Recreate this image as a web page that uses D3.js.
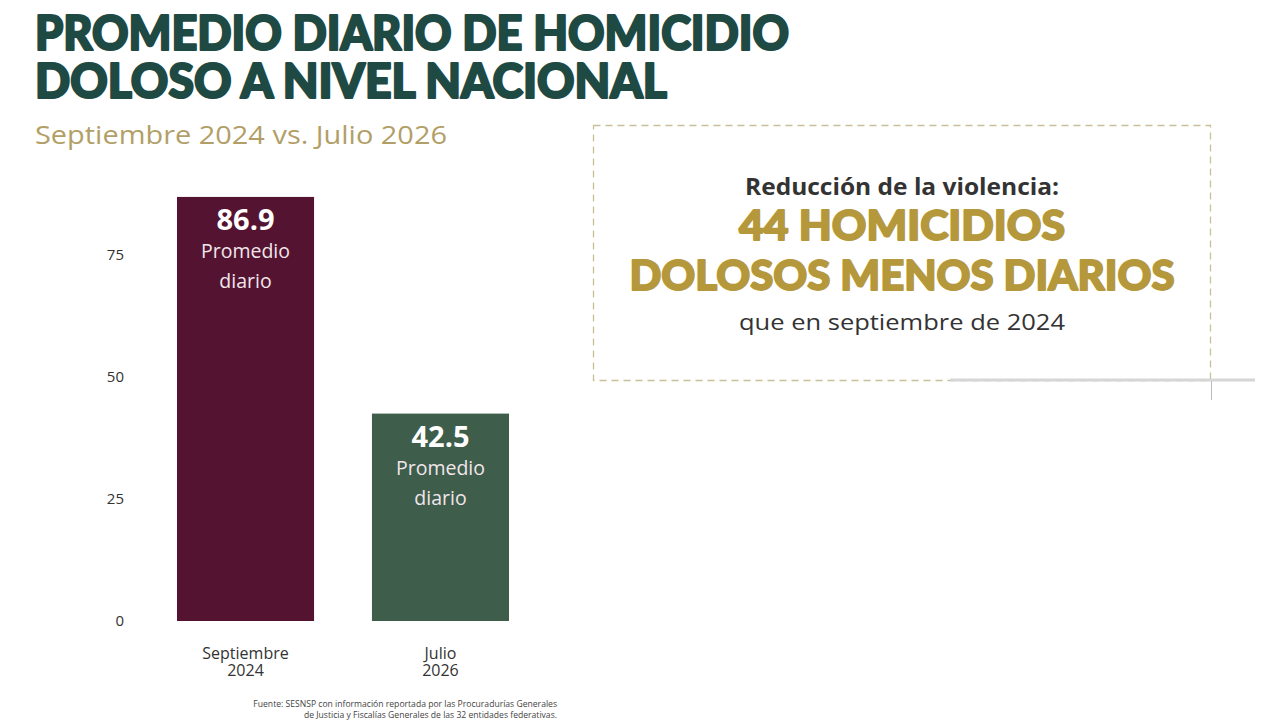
<!DOCTYPE html>
<html><head><meta charset="utf-8">
<script src="https://cdn.jsdelivr.net/npm/d3@7"></script>
<style>
html,body{margin:0;padding:0;background:#fff;}
svg{display:block;}
</style></head>
<body>
<svg id="chart" width="1280" height="723"></svg>
<script>
const categories = [["Septiembre","2024"],["Julio","2026"]];
const values = [86.9, 42.5];
const valueLabels = ["86.9","42.5"];
const tickValues = [0,25,50,75];
const barColors = ["#541331","#3e5d4a"];
const titleLines = ["PROMEDIO DIARIO DE HOMICIDIO","DOLOSO A NIVEL NACIONAL"];
const subtitle = "Septiembre 2024 vs. Julio 2026";
const boxLines = ["Reducción de la violencia:","44 HOMICIDIOS","DOLOSOS MENOS DIARIOS","que en septiembre de 2024"];
const sourceLines = ["Fuente: SESNSP con información reportada por las Procuradurías Generales","de Justicia y Fiscalías Generales de las 32 entidades federativas."];

const svg = d3.select("#chart");

// Title
svg.selectAll("text.title").data(titleLines).join("text")
  .attr("class","title")
  .attr("x",35).attr("y",(d,i)=>50+i*48)
  .attr("font-family","Lato, 'Noto Sans', sans-serif")
  .attr("font-weight",900).attr("font-size",47)
  .attr("fill","#1f4a43").attr("stroke","#1f4a43").attr("stroke-width",2.2).attr("stroke-linejoin","round")
  .attr("textLength",(d,i)=>[754,632][i]).attr("lengthAdjust","spacingAndGlyphs")
  .text(d=>d);

svg.append("text").attr("x",35).attr("y",144)
  .attr("font-family","'Open Sans', sans-serif").attr("font-size",25)
  .attr("fill","#b29f68")
  .attr("textLength",412).attr("lengthAdjust","spacingAndGlyphs")
  .text(subtitle);

// Chart
const y = d3.scaleLinear().domain([0,75]).range([621,255]);
const x = d3.scaleBand().domain(d3.range(categories.length)).range([177,509]).paddingInner(0.297).paddingOuter(0);

const yAxis = svg.append("g").attr("transform","translate(124,0)")
  .call(d3.axisLeft(y).tickValues(tickValues).tickSize(0).tickPadding(0));
yAxis.select(".domain").remove();
yAxis.selectAll("text").attr("font-family","'Open Sans', sans-serif").attr("font-size",15).attr("fill","#333");

svg.selectAll("rect.bar").data(values).join("rect")
  .attr("class","bar")
  .attr("x",(d,i)=>x(i)).attr("width",x.bandwidth())
  .attr("y",d=>y(d)).attr("height",d=>y(0)-y(d))
  .attr("fill",(d,i)=>barColors[i]);

const lab = svg.selectAll("g.lab").data(values).join("g").attr("class","lab")
  .attr("transform",(d,i)=>`translate(${x(i)+x.bandwidth()/2},${y(d)})`);
lab.append("text").attr("y",33).attr("text-anchor","middle")
  .attr("font-family","'Open Sans', sans-serif").attr("font-weight",700).attr("font-size",29)
  .attr("fill","#fff").text((d,i)=>valueLabels[i]);
lab.append("text").attr("y",61).attr("text-anchor","middle")
  .attr("font-family","'Open Sans', sans-serif").attr("font-size",19.5)
  .attr("fill","#f1e6ea").text("Promedio");
lab.append("text").attr("y",91).attr("text-anchor","middle")
  .attr("font-family","'Open Sans', sans-serif").attr("font-size",19.5)
  .attr("fill","#f1e6ea").text("diario");

categories.forEach((c,i)=>{
  c.forEach((line,j)=>{
    svg.append("text").attr("x",x(i)+x.bandwidth()/2).attr("y",659+j*17)
      .attr("text-anchor","middle")
      .attr("font-family","'Open Sans', sans-serif").attr("font-size",16).attr("fill","#333")
      .text(line);
  });
});

// Source
svg.selectAll("text.src").data(sourceLines).join("text").attr("class","src")
  .attr("x",557).attr("y",(d,i)=>707+i*10.5).attr("text-anchor","end")
  .attr("font-family","'Open Sans', sans-serif").attr("font-size",8.6).attr("fill","#444")
  .text(d=>d);

// Box
svg.append("rect").attr("x",593.5).attr("y",125.5).attr("width",617).attr("height",255)
  .attr("fill","none").attr("stroke","#c9bf97").attr("stroke-width",1.3).attr("stroke-dasharray","7,5");
svg.append("line").attr("x1",950).attr("x2",1255).attr("y1",380).attr("y2",380)
  .attr("stroke","#d6d6d6").attr("stroke-width",3);
svg.append("line").attr("x1",1211.5).attr("x2",1211.5).attr("y1",381).attr("y2",400)
  .attr("stroke","#bbb").attr("stroke-width",1);

const cx = 902;
svg.append("text").attr("x",cx).attr("y",195).attr("text-anchor","middle")
  .attr("font-family","'Open Sans', sans-serif").attr("font-weight",700).attr("font-size",23)
  .attr("fill","#333").attr("textLength",314).attr("lengthAdjust","spacingAndGlyphs").text(boxLines[0]);
svg.append("text").attr("x",cx).attr("y",240).attr("text-anchor","middle")
  .attr("font-family","Lato, sans-serif").attr("font-weight",900).attr("font-size",41)
  .attr("fill","#b5983b").attr("stroke","#b5983b").attr("stroke-width",1.8).attr("stroke-linejoin","round")
  .attr("textLength",326).attr("lengthAdjust","spacingAndGlyphs").text(boxLines[1]);
svg.append("text").attr("x",cx).attr("y",290).attr("text-anchor","middle")
  .attr("font-family","Lato, sans-serif").attr("font-weight",900).attr("font-size",41)
  .attr("fill","#b5983b").attr("stroke","#b5983b").attr("stroke-width",1.8).attr("stroke-linejoin","round")
  .attr("textLength",545).attr("lengthAdjust","spacingAndGlyphs").text(boxLines[2]);
svg.append("text").attr("x",cx).attr("y",330).attr("text-anchor","middle")
  .attr("font-family","'Open Sans', sans-serif").attr("font-size",21.5)
  .attr("fill","#333").attr("textLength",326).attr("lengthAdjust","spacingAndGlyphs").text(boxLines[3]);
</script>
</body></html>
